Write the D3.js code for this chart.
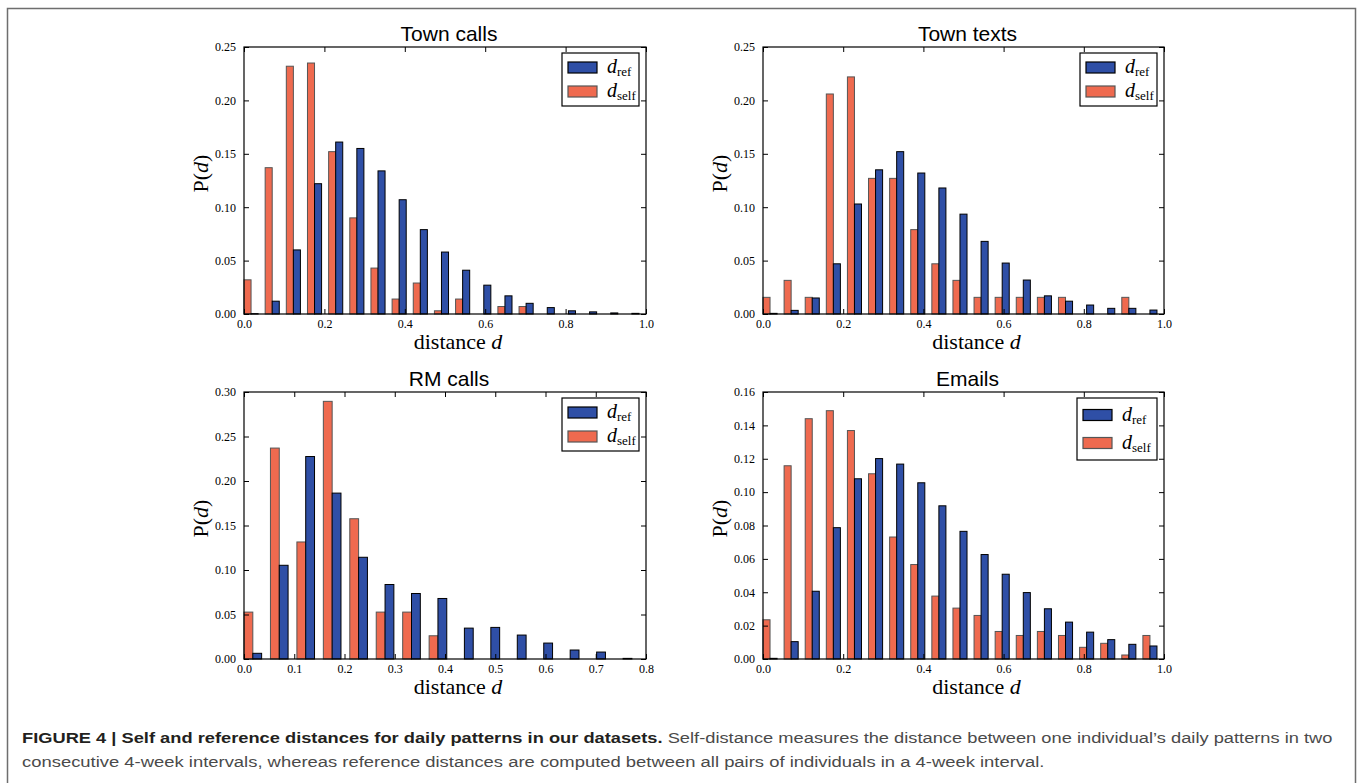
<!DOCTYPE html>
<html>
<head>
<meta charset="utf-8">
<script src="https://cdn.jsdelivr.net/npm/d3@7"></script>
<style>
  body { margin: 0; background: #fff; }
  svg { display: block; }
</style>
</head>
<body>
<script>
// bin width of the histograms (19 bins over [0, 1])
var binWidth = 1 / 19;

// series values, one entry per bin
var townCallsSelf = [0.032, 0.137, 0.232, 0.235, 0.152, 0.090, 0.043, 0.014, 0.029, 0.003, 0.014, 0, 0.007, 0.007, 0, 0, 0, 0, 0];
var townCallsRef  = [0.0003, 0.012, 0.060, 0.122, 0.161, 0.155, 0.134, 0.107, 0.079, 0.058, 0.041, 0.027, 0.017, 0.010, 0.006, 0.003, 0.002, 0.001, 0.0006];

var townTextsSelf = [0.0156, 0.0315, 0.0156, 0.206, 0.222, 0.127, 0.127, 0.079, 0.047, 0.0315, 0.0156, 0.0156, 0.0156, 0.0156, 0.0156, 0, 0, 0.0156, 0];
var townTextsRef  = [0.0006, 0.0034, 0.015, 0.047, 0.103, 0.135, 0.152, 0.132, 0.118, 0.0935, 0.068, 0.0477, 0.0318, 0.017, 0.012, 0.0084, 0.0053, 0.0053, 0.0037];

var rmCallsSelf = [0.0527, 0.237, 0.1315, 0.2895, 0.1576, 0.0527, 0.0527, 0.0261, 0, 0, 0, 0, 0, 0, 0];
var rmCallsRef  = [0.0064, 0.1053, 0.2275, 0.1864, 0.1143, 0.0837, 0.0736, 0.068, 0.0347, 0.0355, 0.0269, 0.0179, 0.0101, 0.0078, 0.0007];

var emailsSelf = [0.0235, 0.1158, 0.144, 0.1488, 0.1369, 0.111, 0.0731, 0.0566, 0.0377, 0.0305, 0.0261, 0.0165, 0.0141, 0.0165, 0.0141, 0.007, 0.0094, 0.0024, 0.0141];
var emailsRef  = [0.0004, 0.0104, 0.0406, 0.0787, 0.108, 0.1201, 0.1168, 0.1056, 0.0918, 0.0765, 0.0626, 0.0508, 0.0398, 0.0301, 0.0221, 0.0161, 0.0116, 0.0088, 0.0078];

// tick values
var xTicksUnit = [0, 0.2, 0.4, 0.6, 0.8, 1.0];
var xTicksRM = [0, 0.1, 0.2, 0.3, 0.4, 0.5, 0.6, 0.7, 0.8];
var yTicksTown = [0, 0.05, 0.10, 0.15, 0.20, 0.25];
var yTicksRM = [0, 0.05, 0.10, 0.15, 0.20, 0.25, 0.30];
var yTicksEmails = [0, 0.02, 0.04, 0.06, 0.08, 0.10, 0.12, 0.14, 0.16];

var titles = ["Town calls", "Town texts", "RM calls", "Emails"];
var captionBold = "FIGURE 4 | Self and reference distances for daily patterns in our datasets.";
var captionRest = " Self-distance measures the distance between one individual\u2019s daily patterns in two";
var captionLine2 = "consecutive 4-week intervals, whereas reference distances are computed between all pairs of individuals in a 4-week interval.";

var blue = "#2f4fa6", orange = "#ef6a4f";
var serif = "'Liberation Serif', 'Times New Roman', serif";
var sans = "'Liberation Sans', Arial, Helvetica, sans-serif";

var panels = [
  {title: titles[0], self: townCallsSelf, ref: townCallsRef, xmax: 1, ymax: 0.25, xt: xTicksUnit, yt: yTicksTown, yfmt: ".2f",
   x0: 244, y0: 47, w: 402, h: 267, leg: {x: 562, y: 53, w: 77, h: 53, gap: 24}},
  {title: titles[1], self: townTextsSelf, ref: townTextsRef, xmax: 1, ymax: 0.25, xt: xTicksUnit, yt: yTicksTown, yfmt: ".2f",
   x0: 763, y0: 47, w: 401, h: 267, leg: {x: 1080, y: 53, w: 77, h: 53, gap: 24}},
  {title: titles[2], self: rmCallsSelf, ref: rmCallsRef, xmax: 0.8, ymax: 0.30, xt: xTicksRM, yt: yTicksRM, yfmt: ".2f",
   x0: 244, y0: 392, w: 402, h: 267, leg: {x: 562, y: 398, w: 77, h: 53, gap: 24}},
  {title: titles[3], self: emailsSelf, ref: emailsRef, xmax: 1, ymax: 0.16, xt: xTicksUnit, yt: yTicksEmails, yfmt: ".2f",
   x0: 763, y0: 392, w: 401, h: 267, leg: {x: 1077, y: 398, w: 80, h: 62, gap: 28}}
];

var svg = d3.select("body").append("svg")
  .attr("width", 1358)
  .attr("height", 783);

// outer frame of the figure
svg.append("path")
  .attr("d", "M7.5,790 V8.5 H1355.5 V790")
  .attr("fill", "none")
  .attr("stroke", "#6e6e6e")
  .attr("stroke-width", 1.5);

panels.forEach(function(p) {
  var x = d3.scaleLinear().domain([0, p.xmax]).range([0, p.w]);
  var y = d3.scaleLinear().domain([0, p.ymax]).range([p.h, 0]);
  var g = svg.append("g").attr("transform", "translate(" + p.x0 + "," + p.y0 + ")");
  var barW = x(binWidth / 3) - x(0);

  // bars: self on the left of each bin, ref right next to it
  g.selectAll(".self").data(p.self).enter().append("rect")
    .attr("x", function(d, i) { return x(i * binWidth); })
    .attr("y", function(d) { return y(d); })
    .attr("width", barW)
    .attr("height", function(d) { return p.h - y(d); })
    .attr("fill", orange)
    .attr("stroke", "#555")
    .attr("stroke-width", 1);

  g.selectAll(".ref").data(p.ref).enter().append("rect")
    .attr("x", function(d, i) { return x(i * binWidth) + barW; })
    .attr("y", function(d) { return y(d); })
    .attr("width", barW)
    .attr("height", function(d) { return p.h - y(d); })
    .attr("fill", blue)
    .attr("stroke", "#000")
    .attr("stroke-width", 1);

  // axes, ticks pointing inward on all four sides
  var xb = g.append("g").attr("transform", "translate(0," + p.h + ")")
    .call(d3.axisBottom(x).tickValues(p.xt).tickFormat(d3.format(".1f")).tickSize(-5).tickPadding(5));
  var xt = g.append("g")
    .call(d3.axisTop(x).tickValues(p.xt).tickFormat("").tickSize(-5));
  var yl = g.append("g")
    .call(d3.axisLeft(y).tickValues(p.yt).tickFormat(d3.format(p.yfmt)).tickSize(-5).tickPadding(8));
  var yr = g.append("g").attr("transform", "translate(" + p.w + ",0)")
    .call(d3.axisRight(y).tickValues(p.yt).tickFormat("").tickSize(-5));
  [xb, xt, yl, yr].forEach(function(a) {
    a.select(".domain").remove();
    a.selectAll("line").attr("stroke", "#000");
    a.selectAll("text").attr("font-family", serif).attr("font-size", 12).attr("fill", "#000");
  });

  g.append("rect")
    .attr("width", p.w).attr("height", p.h)
    .attr("fill", "none").attr("stroke", "#000").attr("stroke-width", 1.2);

  // title
  g.append("text")
    .attr("x", p.w / 2 + 4).attr("y", -6)
    .attr("text-anchor", "middle")
    .attr("font-family", sans).attr("font-size", 21)
    .text(p.title);

  // axis labels
  var xl = g.append("text")
    .attr("x", p.w / 2 + 13).attr("y", p.h + 34.5)
    .attr("text-anchor", "middle")
    .attr("font-family", serif).attr("font-size", 22);
  xl.append("tspan").text("distance ");
  xl.append("tspan").attr("font-style", "italic").text("d");

  var ylab = g.append("text")
    .attr("transform", "translate(-36," + (p.h / 2 - 7) + ") rotate(-90)")
    .attr("text-anchor", "middle")
    .attr("font-family", serif).attr("font-size", 22);
  ylab.append("tspan").text("P(");
  ylab.append("tspan").attr("font-style", "italic").text("d");
  ylab.append("tspan").text(")");

  // legend
  var L = p.leg;
  var lg = svg.append("g").attr("transform", "translate(" + L.x + "," + L.y + ")");
  lg.append("rect").attr("width", L.w).attr("height", L.h)
    .attr("fill", "#fff").attr("stroke", "#000").attr("stroke-width", 1.2);
  var items = [{c: blue, s: "#000", sub: "ref"}, {c: orange, s: "#555", sub: "self"}];
  items.forEach(function(it, i) {
    var cy = L.h / 2 - L.gap / 2 + i * L.gap;
    lg.append("rect").attr("x", 6).attr("y", cy - 5.5).attr("width", 29).attr("height", 11)
      .attr("fill", it.c).attr("stroke", it.s).attr("stroke-width", 1.2);
    var t = lg.append("text").attr("x", 45).attr("y", cy + 5.5)
      .attr("font-family", serif).attr("font-size", 20);
    t.append("tspan").attr("font-style", "italic").text("d");
    t.append("tspan").attr("font-size", 13).attr("dy", 3).text(it.sub);
  });
});

// caption
function fitText(sel, x, y, target) {
  var w = sel.node().getComputedTextLength();
  sel.attr("transform", "translate(" + x + "," + y + ") scale(" + (target / w) + ",1)");
}
var c1 = svg.append("text").attr("font-family", sans).attr("font-size", 15.5);
c1.append("tspan").attr("font-weight", "bold").attr("fill", "#231f20").text(captionBold);
c1.append("tspan").attr("fill", "#4a4a4a").text(captionRest);
fitText(c1, 22, 743, 1311);

var c2 = svg.append("text").attr("font-family", sans).attr("font-size", 15.5)
  .attr("fill", "#4a4a4a").text(captionLine2);
fitText(c2, 22, 767, 1023);
</script>
</body>
</html>
